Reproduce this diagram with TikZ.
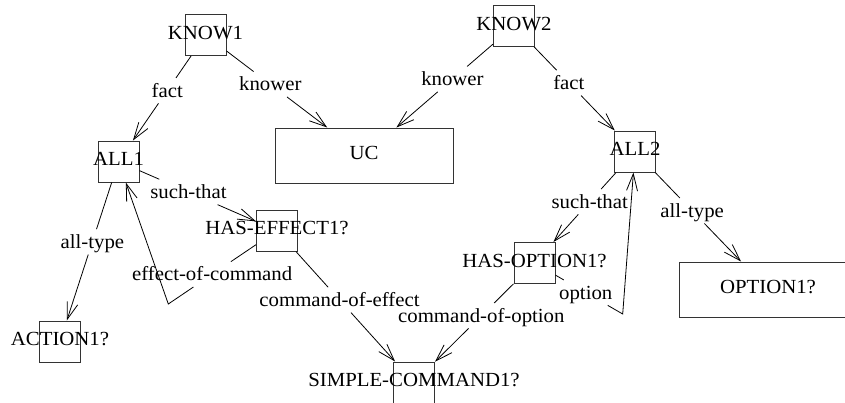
\documentclass[tikz,border=0pt]{standalone}
\usepackage{fontspec}
\setmainfont{Liberation Serif}[FakeStretch=1.04]
\usetikzlibrary{arrows.meta}
\newcommand{\boxtxt}[1]{\makebox[0pt]{#1}}

\begin{document}
\begin{tikzpicture}[x=1pt, y=-1pt, font=\fontsize{20}{24}\selectfont,
    concept/.style={draw=black!80, line width=1pt, inner sep=0pt, minimum size=41pt,
      text height=11pt, text depth=2.5pt},
    bigbox/.style={concept, minimum width=178pt, minimum height=55pt},
    rel/.style={inner sep=3pt, text height=16pt, text depth=3pt},
    link/.style={line width=0.8pt},
    arr/.style={link, -{Straight Barb[length=17pt, width=11pt]}}]
  \clip (0,0) rectangle (845,402);

  % concepts
  \node[concept] (know1) at (205.5,35) {\boxtxt{KNOW1}};
  \node[concept] (know2) at (514,26) {\boxtxt{KNOW2}};
  \node[concept] (all1) at (118.5,161.5) {\boxtxt{ALL1}};
  \node[concept] (all2) at (635,151.5) {\boxtxt{ALL2}};
  \node[bigbox] (uc) at (364,155.5) {UC};
  \node[concept] (he) at (277,230.5) {\boxtxt{HAS-EFFECT1?}};
  \node[concept] (ho) at (534.5,263) {\boxtxt{HAS-OPTION1?}};
  \node[concept] (action) at (60,341.5) {\boxtxt{ACTION1?}};
  \node[concept] (sc) at (414,382.5) {\boxtxt{SIMPLE-COMMAND1?}};
  \node[bigbox] (opt) at (768,289.5) {OPTION1?};

  % straight relations
  \foreach \a/\b/\t/\p [count=\i] in {know1/all1/fact/.41, know1/uc/knower/.435,
      know2/uc/knower/.42, know2/all2/fact/.43, all1/he/such-that/.42,
      all1/action/all-type/.43, he/sc/command-of-effect/.44,
      ho/sc/command-of-option/.41, all2/ho/such-that/.42, all2/opt/all-type/.43} {
    \path (\a) -- node[rel, pos=\p] (lab\i) {\t} (\b);
    \draw[link] (\a) -- (lab\i);
    \draw[arr] (lab\i) -- (\b);
  }

  % bent relations
  \coordinate (bend1) at (168.3,304);
  \path (he) -- node[rel, pos=.5] (effcmd) {effect-of-command} (bend1);
  \draw[link] (he) -- (effcmd);
  \draw[arr] (effcmd) -- (bend1) -- (all1);

  \coordinate (bend2) at (622.7,314);
  \path (ho) -- node[rel, pos=.45] (optrel) {option} (bend2);
  \draw[link] (ho) -- (optrel);
  \draw[arr] (optrel) -- (bend2) -- (all2);
\end{tikzpicture}
\end{document}
